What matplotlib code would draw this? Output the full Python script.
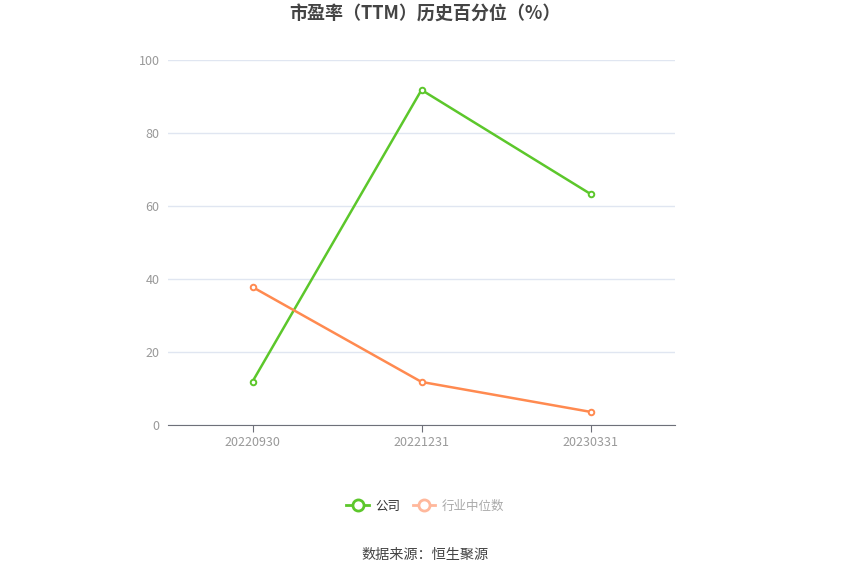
import matplotlib
matplotlib.use("Agg")
import matplotlib.pyplot as plt
from matplotlib.lines import Line2D

plt.rcParams['font.family'] = ['Noto Sans CJK SC', 'DejaVu Sans']

# 数据
dates = ["20220930", "20221231", "20230331"]
company = [11.9, 91.8, 63.3]
industry = [37.8, 11.8, 3.6]
yticks = [0, 20, 40, 60, 80, 100]

green = "#5cc72b"
orange = "#ff8a50"

fig = plt.figure(figsize=(8.5, 5.75), dpi=100)
ax = fig.add_axes([168 / 850, 1 - 425 / 575, (675 - 168) / 850, (425 - 60) / 575])

x = range(len(dates))
ax.plot(x, company, color=green, lw=1.8, marker='o', ms=4, mfc='white', mew=1.4, zorder=3)
ax.plot(x, industry, color=orange, lw=1.8, marker='o', ms=4, mfc='white', mew=1.4, zorder=3)

ax.set_xlim(-0.5, len(dates) - 0.5)
ax.set_ylim(0, 100)
ax.set_xticks(list(x))
ax.set_xticklabels(dates)
ax.set_yticks(yticks)
ax.grid(axis='y', color='#e0e6f1', lw=1)
ax.set_axisbelow(True)

for s in ['top', 'right', 'left']:
    ax.spines[s].set_visible(False)
ax.spines['bottom'].set_color('#6e7079')
ax.tick_params(axis='y', length=0, colors='#999999', labelsize=9, pad=6)
ax.tick_params(axis='x', length=5, color='#6e7079', colors='#999999', labelsize=9, pad=3)

fig.text(0.5, 1 - 14 / 575, "市盈率（TTM）历史百分位（%）", ha='center', va='center',
         fontsize=13, fontweight='bold', color='#444444')

handles = [
    Line2D([0], [0], color=green, lw=2, marker='o', ms=8, mfc='white', mew=2),
    Line2D([0], [0], color='#ffb89c', lw=2, marker='o', ms=8, mfc='white', mew=2),
]
leg = fig.legend(handles, ["公司", "行业中位数"], loc='center', bbox_to_anchor=(0.5, 1 - 506 / 575),
                 ncol=2, frameon=False, fontsize=9, handlelength=1.8, columnspacing=1.0,
                 handletextpad=0.5)
leg.get_texts()[0].set_color('#333333')
leg.get_texts()[1].set_color('#aaaaaa')

fig.text(0.5, 1 - 555 / 575, "数据来源：恒生聚源", ha='center', va='center', fontsize=10.2, color='#444444')

fig.savefig("out.png", dpi=100)
